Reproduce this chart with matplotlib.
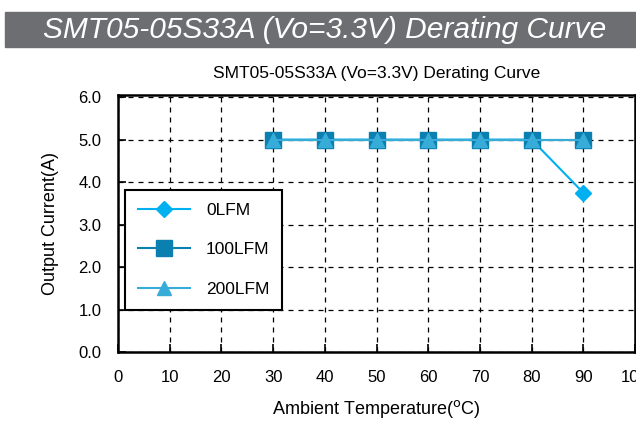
import matplotlib
matplotlib.use("Agg")
import matplotlib.pyplot as plt
from matplotlib.patches import Rectangle

plt.rcParams["font.family"] = ["Liberation Sans", "DejaVu Sans"]

temps = [30, 40, 50, 60, 70, 80, 90]
lfm0 = [5.0, 5.0, 5.0, 5.0, 5.0, 5.0, 3.75]
lfm100 = [5.0, 5.0, 5.0, 5.0, 5.0, 5.0, 5.0]
lfm200 = [5.0, 5.0, 5.0, 5.0, 5.0, 5.0, 5.0]
xticks = [0, 10, 20, 30, 40, 50, 60, 70, 80, 90, 100]
yticks = [0.0, 1.0, 2.0, 3.0, 4.0, 5.0, 6.0]

fig = plt.figure(figsize=(6.36, 4.23), dpi=100)

# grey banner on top
fig.patches.append(Rectangle((5 / 636, 1 - 47 / 423), 631 / 636, 35 / 423,
                             transform=fig.transFigure, color="#6d6e72", zorder=0))
fig.text(0.51, 1 - 30 / 423, "SMT05-05S33A (Vo=3.3V) Derating Curve",
         color="white", fontsize=21.5, style="italic", ha="center", va="center",
         family=["Liberation Sans Narrow", "Liberation Sans"])

ax = fig.add_axes([118 / 636, 1 - 352 / 423, 517 / 636, 257 / 423])
ax.plot(temps, lfm0, color="#00b0f0", marker="D", markersize=8, lw=1.5, label="0LFM", zorder=3)
ax.plot(temps, lfm100, color="#0a7fb0", marker="s", markersize=11, lw=1.5, label="100LFM", zorder=4)
ax.plot(temps, lfm200, color="#38acd8", marker="^", markersize=10, lw=1.5, label="200LFM", zorder=5)

ax.set_xlim(0, 100)
ax.set_ylim(0, 6.05)
ax.set_xticks(xticks)
ax.set_yticks(yticks)
ax.set_yticklabels([f"{v:.1f}" for v in yticks])
ax.tick_params(direction="in", length=6, width=1.2, labelsize=12)
ax.tick_params(axis="x", pad=13)
ax.tick_params(axis="y", pad=12)
ax.grid(True, color="black", linestyle=(0, (4, 4)), linewidth=0.9)
for s in ax.spines.values():
    s.set_linewidth(1.8)

ax.set_title("SMT05-05S33A (Vo=3.3V) Derating Curve", fontsize=12.5, pad=12)
ax.set_xlabel("Ambient Temperature($^{\\rm o}$C)", fontsize=13, labelpad=9)
ax.set_ylabel("Output Current(A)", fontsize=13, labelpad=14)

leg = ax.legend(loc="upper left", bbox_to_anchor=(0.014, 0.632), borderaxespad=0,
                fontsize=12.5, fancybox=False, framealpha=1, edgecolor="black",
                borderpad=0.75, labelspacing=1.4, handlelength=3.0, handletextpad=0.9)
leg.get_frame().set_linewidth(1.5)

plt.savefig("out.png", dpi=100)
